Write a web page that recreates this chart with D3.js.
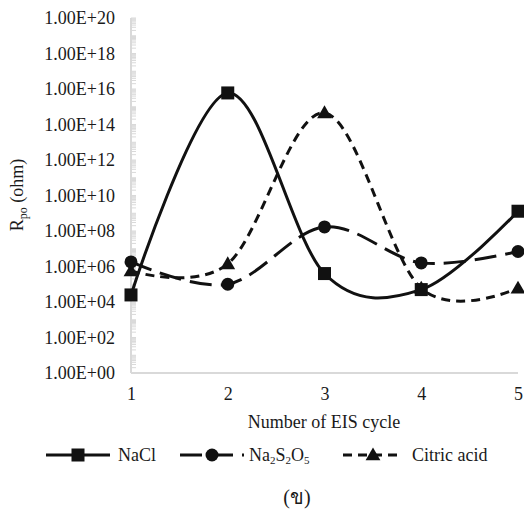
<!DOCTYPE html>
<html>
<head>
<meta charset="utf-8">
<script src="https://cdn.jsdelivr.net/npm/d3@7"></script>
<style>
  html, body { margin: 0; padding: 0; background: #fff; }
  svg { display: block; }
  text { font-family: "Liberation Serif", "Times New Roman", serif; fill: #1a1a1a; }
</style>
</head>
<body>
<svg id="chart" width="524" height="511"></svg>
<script>
// EIS cycle numbers
const cycles = [1, 2, 3, 4, 5];

// Pore resistance R_po (ohm) for each solution
const nacl      = [2.5e4, 6e15, 4e5, 5e4, 1.3e9];
const na2s2o5   = [1.8e6, 1e5, 1.7e8, 1.6e6, 7e6];
const citric    = [5.6e5, 1.4e6, 4.5e14, 6e4, 6e4];

// Major tick values on the log axis (every two decades)
const yTicks = [1e0, 1e2, 1e4, 1e6, 1e8, 1e10, 1e12, 1e14, 1e16, 1e18, 1e20];

const series = [
  { name: "NaCl",    values: nacl,    dash: null,   marker: "square" },
  { name: "Na2S2O5", values: na2s2o5, dash: "22,9", marker: "circle" },
  { name: "Citric acid", values: citric, dash: "9,6", marker: "triangle" }
];

const svg = d3.select("#chart");
const plotLeft = 131, plotRight = 518, plotTop = 18, plotBottom = 373;
const fontSize = 18;

const x = d3.scaleLinear().domain([1, 5]).range([plotLeft, plotRight]);
const y = d3.scaleLog().domain([1e0, 1e20]).range([plotBottom, plotTop]);

const axisColor = "#d9d9d9";

// minor ticks of the log axis
const minor = [];
for (let e = 0; e < 20; e++) {
  for (let k = 1; k <= 9; k++) minor.push(k * Math.pow(10, e));
}
minor.push(1e20);
svg.append("g").selectAll("line").data(minor).join("line")
  .attr("x1", plotLeft).attr("x2", plotLeft + 5)
  .attr("y1", d => y(d)).attr("y2", d => y(d))
  .attr("stroke", axisColor).attr("stroke-width", 1);

// y axis line
svg.append("line")
  .attr("x1", plotLeft).attr("x2", plotLeft)
  .attr("y1", plotTop).attr("y2", plotBottom)
  .attr("stroke", axisColor).attr("stroke-width", 2);

// x axis line
svg.append("line")
  .attr("x1", plotLeft).attr("x2", plotRight)
  .attr("y1", plotBottom).attr("y2", plotBottom)
  .attr("stroke", axisColor).attr("stroke-width", 2);

// y tick labels
const fmtE = d => {
  const e = Math.round(Math.log10(d));
  return "1.00E+" + String(e).padStart(2, "0");
};
const yAxis = d3.axisLeft(y).tickValues(yTicks).tickFormat(fmtE).tickSize(0).tickPadding(16);
const gy = svg.append("g").attr("transform", `translate(${plotLeft},0)`).call(yAxis);
gy.select(".domain").remove();
gy.selectAll("text").attr("font-size", fontSize).style("font-family", "'Liberation Serif', serif").attr("fill", "#1a1a1a");

// x tick labels
const xAxis = d3.axisBottom(x).tickValues(cycles).tickFormat(d3.format("d")).tickSize(0).tickPadding(14);
const gx = svg.append("g").attr("transform", `translate(0,${plotBottom})`).call(xAxis);
gx.select(".domain").remove();
gx.selectAll("text").attr("font-size", fontSize).style("font-family", "'Liberation Serif', serif").attr("fill", "#1a1a1a");

// axis titles
svg.append("text")
  .attr("x", 324).attr("y", 428)
  .attr("text-anchor", "middle").attr("font-size", fontSize)
  .text("Number of EIS cycle");

const yt = svg.append("text")
  .attr("transform", "translate(23,195) rotate(-90)")
  .attr("text-anchor", "middle").attr("font-size", fontSize);
yt.append("tspan").text("R");
yt.append("tspan").attr("font-size", 12).attr("dy", 4).text("po");
yt.append("tspan").attr("dy", -4).text(" (ohm)");

// curves (smoothed)
const line = d3.line()
  .x((d, i) => x(cycles[i]))
  .y(d => y(d))
  .curve(d3.curveCatmullRom.alpha(0));

function drawMarker(g, type, cx, cy) {
  if (type === "square") {
    g.append("rect").attr("x", cx - 6.5).attr("y", cy - 6.5)
      .attr("width", 13).attr("height", 13).attr("fill", "#111");
  } else if (type === "circle") {
    g.append("circle").attr("cx", cx).attr("cy", cy).attr("r", 6.5).attr("fill", "#111");
  } else {
    const s = d3.symbol().type(d3.symbolTriangle).size(95);
    g.append("path").attr("d", s()).attr("transform", `translate(${cx},${cy + 1})`).attr("fill", "#111");
  }
}

const plot = svg.append("g");
series.forEach(s => {
  plot.append("path")
    .attr("d", line(s.values))
    .attr("fill", "none")
    .attr("stroke", "#111")
    .attr("stroke-width", 3)
    .attr("stroke-dasharray", s.dash);
});
series.slice().reverse().forEach(s => {
  const g = plot.append("g");
  s.values.forEach((v, i) => drawMarker(g, s.marker, x(cycles[i]), y(v)));
});

// legend
const legY = 455;
const legend = svg.append("g");
const legendItems = [
  { s: series[0], x1: 46,  x2: 110, tx: 118 },
  { s: series[1], x1: 180, x2: 244, tx: 249 },
  { s: series[2], x1: 343, x2: 403, tx: 412 }
];
legendItems.forEach(it => {
  legend.append("line")
    .attr("x1", it.x1).attr("x2", it.x2).attr("y1", legY).attr("y2", legY)
    .attr("stroke", "#111").attr("stroke-width", 3)
    .attr("stroke-dasharray", it.s.dash);
  drawMarker(legend, it.s.marker, (it.x1 + it.x2) / 2, legY);
  const t = legend.append("text").attr("x", it.tx).attr("y", legY + 6).attr("font-size", fontSize);
  if (it.s.name === "Na2S2O5") {
    t.append("tspan").text("Na");
    t.append("tspan").attr("font-size", 11).attr("dy", 3).text("2");
    t.append("tspan").attr("dy", -3).text("S");
    t.append("tspan").attr("font-size", 11).attr("dy", 3).text("2");
    t.append("tspan").attr("dy", -3).text("O");
    t.append("tspan").attr("font-size", 11).attr("dy", 3).text("5");
  } else {
    t.text(it.s.name);
  }
});

// panel caption
svg.append("text")
  .attr("x", 297).attr("y", 504)
  .attr("text-anchor", "middle").attr("font-size", 20)
  .text("(ข)");
</script>
</body>
</html>
